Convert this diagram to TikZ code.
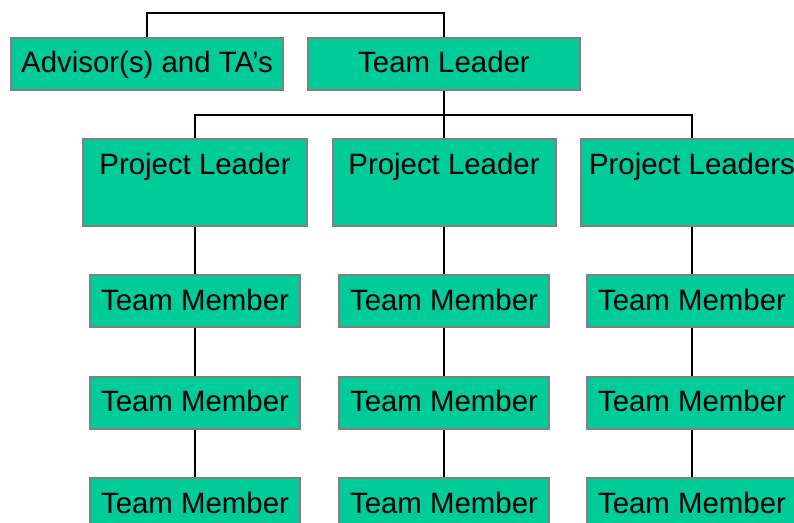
\documentclass[tikz,border=0pt]{standalone}
\usepackage{fontspec}
\setmainfont{Liberation Sans}
\usetikzlibrary{positioning}
\definecolor{boxgreen}{RGB}{0,204,153}
\definecolor{boxgray}{RGB}{128,128,128}

\begin{document}
\begin{tikzpicture}[
                x=1bp, y=-1bp,
                every node/.style={font=\fontsize{29.4bp}{35bp}\selectfont},
                head/.style={rectangle,draw=boxgray,line width=2bp,fill=boxgreen,minimum width=272bp,minimum height=52bp,text height=22bp,text depth=4bp},
                lead/.style={rectangle,draw=boxgray,line width=2bp,fill=boxgreen,minimum width=223bp,minimum height=87bp,text height=22bp,text depth=37bp},
                member/.style={rectangle,draw=boxgray,line width=2bp,fill=boxgreen,minimum width=210bp,minimum height=52bp,text height=22bp,text depth=4bp},
                link/.style={draw=black,line width=1.5bp},
            ]
            \useasboundingbox (0,0) rectangle (794,523);

            % Define nodes
            \node[head] (adv) at (147,64) {Advisor(s) and TA’s};
            \node[head] (tl) at (444,64) {Team Leader};

            \node[lead] (pl1) at (195,182.5) {Project Leader};
            \node[lead] (pl2) at (444,182.5) {Project Leader};
            \node[lead] (pl3) at (692,182.5) {Project Leaders};

            \node[member] (tm11) at (195,301) {Team Member};
            \node[member] (tm12) at (195,402.5) {Team Member};
            \node[member] (tm13) at (195,504) {Team Member};
            \node[member] (tm21) at (444,301) {Team Member};
            \node[member] (tm22) at (444,402.5) {Team Member};
            \node[member] (tm23) at (444,504) {Team Member};
            \node[member] (tm31) at (692,301) {Team Member};
            \node[member] (tm32) at (692,402.5) {Team Member};
            \node[member] (tm33) at (692,504) {Team Member};

            \coordinate (top) at (295,13);
            \coordinate (bus) at (444,115);

            % Draw connections
            \draw[link] (adv.north) |- (top) -| (tl.north);
            \draw[link] (tl) -- (pl2);
            \draw[link] (bus) -| (pl1.north);
            \draw[link] (bus) -| (pl3.north);

            \draw[link] (pl1) -- (tm11);
            \draw[link] (tm11) -- (tm12);
            \draw[link] (tm12) -- (tm13);
            \draw[link] (pl2) -- (tm21);
            \draw[link] (tm21) -- (tm22);
            \draw[link] (tm22) -- (tm23);
            \draw[link] (pl3) -- (tm31);
            \draw[link] (tm31) -- (tm32);
            \draw[link] (tm32) -- (tm33);

            \end{tikzpicture}
\end{document}
